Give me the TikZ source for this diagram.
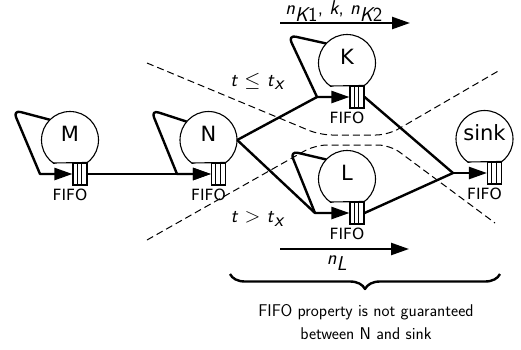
\documentclass[tikz,border=0pt]{standalone}
\usepackage{fontspec}
\newfontfamily\dejavu{DejaVu Sans}
\usetikzlibrary{arrows.meta,decorations.pathreplacing}

% sans-serif italic letters for the timing and counter labels
\newcommand\sfi[1]{\textsf{\itshape #1}}

\tikzset{
  conn/.style={line width=2.4pt, line join=round},
  tip/.style={-{Triangle[length=18pt,width=12pt]}},
  bulbline/.style={line width=1.1pt},
  queue/.style={draw, line width=1.1pt, minimum width=14pt, minimum height=22pt, inner sep=0pt},
  bulbname/.style={font=\dejavu\fontsize{21}{25}\selectfont, inner sep=0pt},
  qlabel/.style={font=\dejavu\fontsize{15.5}{18}\selectfont, inner sep=0pt},
  mathlabel/.style={font=\sffamily\fontsize{20}{24}\selectfont, inner sep=0pt},
  note/.style={font=\sffamily\fontsize{17}{23}\selectfont, align=center, inner sep=0pt},
  sep/.style={dash pattern=on 7pt off 4pt, line width=1pt, rounded corners=12pt},
}

% a station: circle cut by a chord, with its FIFO queue below
% #1 name, #2 x, #3 y, #4 text
\newcommand\bulb[4]{%
  \node[circle, minimum size=57pt, inner sep=0pt] (#1) at (#2,#3) {};
  \begin{scope}
    \clip (#2-31,#3-31) rectangle (#2+31,#3+23);
    \draw[bulbline] (#1.center) circle[radius=28.5pt];
  \end{scope}
  \node[queue] (#1q) at (#2+10,#3+34) {};
  \draw[bulbline] ([xshift=4.667pt]#1q.north west) -- ([xshift=4.667pt]#1q.south west);
  \draw[bulbline] ([xshift=9.333pt]#1q.north west) -- ([xshift=9.333pt]#1q.south west);
  \draw[bulbline] (#2-16.8,#3+23) -- (#1q.north east);
  \node[bulbname] (#1t) at (#2,#3-6) {#4};
  \node[qlabel] (#1f) at (#2,#3+55) {FIFO};
}

\begin{document}
\begin{tikzpicture}[x=1pt,y=-1pt]
\useasboundingbox (0,0) rectangle (521,349);

% separators between the two time regimes
\draw[sep] (147,63) -- (320,135) -- (388,135) -- (500,70);
\draw[sep] (147,240) -- (315,145) -- (390,145) -- (495,223);

\bulb{M}{70}{140}{M}
\bulb{N}{208.5}{140}{N}
\bulb{K}{347}{63}{K}
\bulb{L}{347}{179}{L}
\bulb{sink}{484.5}{139}{sink}

\coordinate (kin) at (317,97);
\coordinate (lin) at (315,213);
\coordinate (sj) at (453,173);

% self loops and forward links
\draw[conn,tip] (M.135) [rounded corners=8pt] -- (13,110) [sharp corners] -- (40,174) -- (Mq.west);
\draw[conn,tip] (Mq.east) -- (Nq.west);
\draw[conn,tip] (N.140) [rounded corners=8pt] -- (151,110) [sharp corners] -- (177,174) -- (Nq.west);
\draw[conn] (N.east) -- (kin);
\draw[conn] (N.east) -- (lin);
\draw[conn,tip] (K.137) [rounded corners=8pt] -- (288,35) [sharp corners] -- (kin) -- (Kq.west);
\draw[conn,tip] (L.137) [rounded corners=8pt] -- (290,151) [sharp corners] -- (lin) -- (Lq.west);
\draw[conn] (Kq.east) -- (sj);
\draw[conn] (Lq.east) -- (sj);
\draw[conn,tip] (sj) -- (sinkq.west);

% flows through K and L
\coordinate (ka) at (280,23);
\coordinate (kb) at (410,23);
\draw[conn,tip] (ka) -- (kb);
\node[mathlabel] (klab) at (334,11) {\sfi{n}$_{\sfi{K}\textsf{1}}$, \sfi{k}, \sfi{n}$_{\sfi{K}\textsf{2}}$};
\coordinate (la) at (280,249);
\coordinate (lb) at (409,249);
\draw[conn,tip] (la) -- (lb);
\node[mathlabel] (llab) at (337,263) {\sfi{n}$_{\sfi{L}}$};

\node[mathlabel] (early) at (257,81) {\sfi{t} $\leq$ \sfi{t}$_{\sfi{x}}$};
\node[mathlabel] (late) at (257,219) {\sfi{t} $>$ \sfi{t}$_{\sfi{x}}$};

% scope of the remark
\coordinate (ba) at (230,274);
\coordinate (bb) at (500,274);
\draw[conn, decorate, decoration={brace, mirror, amplitude=15pt}] (ba) -- (bb);
\node[note] (remark) at (366,322) {FIFO property is not guaranteed\\between N and sink};
\end{tikzpicture}
\end{document}
